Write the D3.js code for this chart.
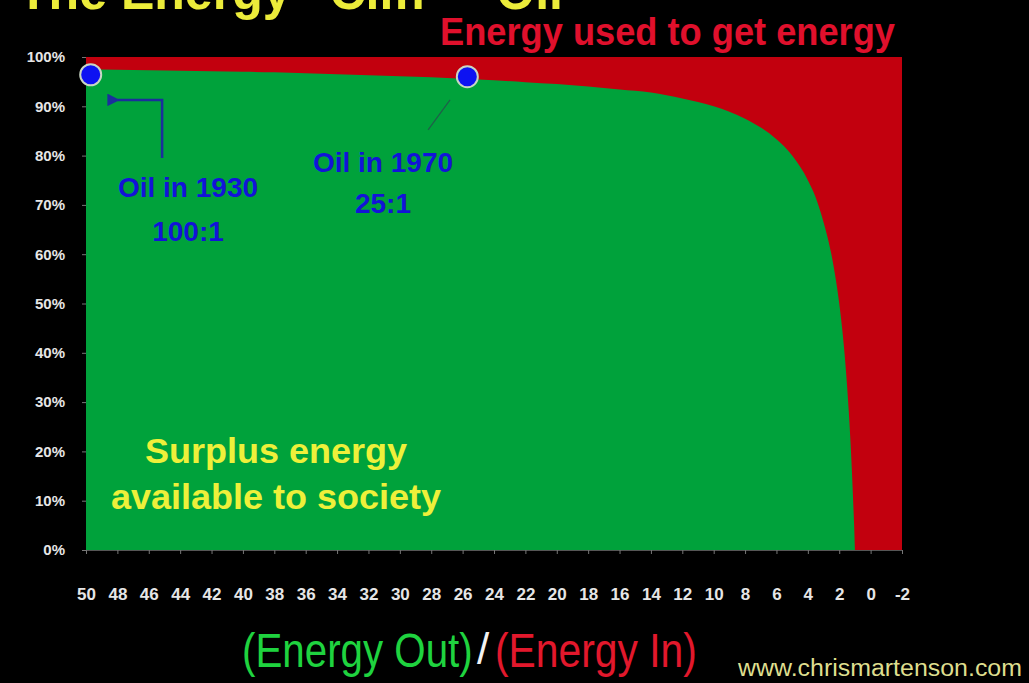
<!DOCTYPE html>
<html>
<head>
<meta charset="utf-8">
<script src="https://cdn.jsdelivr.net/npm/d3@7"></script>
<style>
  html, body { margin: 0; padding: 0; background: #000; }
  svg { display: block; }
</style>
</head>
<body>
<svg id="chart" width="1029" height="683"></svg>
<script>
// ---- data ----
const xTickValues = [50,48,46,44,42,40,38,36,34,32,30,28,26,24,22,20,18,16,14,12,10,8,6,4,2,0,-2];
const yTickValues = [0,10,20,30,40,50,60,70,80,90,100];
const eroi    = [50,48,46,44,42,40,38,36,34,32,30,28,26,24,22,20,18,16,14,12,10,9,8,7,6,5,4,3.5,3,2.5,2.2,2,1.8,1.6,1.4,1.3,1.2,1.1,1.05,1];
const surplus = [97.5,97.4,97.3,97.2,97.1,97.0,96.9,96.7,96.5,96.3,96.1,95.9,95.6,95.3,94.9,94.5,94.0,93.4,92.8,91.6,90.0,88.9,87.5,85.7,83.3,80.0,75.0,71.5,66.5,60.0,54.5,50.0,44.5,37.5,28.5,23.0,16.5,9.0,5.0,0];
const dotLabels = ["Oil in 1930", "Oil in 1970"];
const dotRatios = ["100:1", "25:1"];
const dotX = [49.7, 25.7];
const dotY = [96.4, 96.0];

const svg = d3.select("#chart");
const x = d3.scaleLinear().domain([50, -2]).range([86, 902]);
const y = d3.scaleLinear().domain([0, 100]).range([550, 57]);

// title (cut off at the top, as in the source)
svg.append("text").attr("x", 18).attr("y", 9)
  .attr("font-family", "Liberation Sans, Arial, sans-serif").attr("font-weight", "bold")
  .attr("font-size", 52).attr("fill", "#ecec3a")
  .attr("textLength", 545).attr("lengthAdjust", "spacingAndGlyphs")
  .text("The Energy \u201CCliff\u201D - Oil");

// red: energy used to get energy (whole domain)
svg.append("rect")
  .attr("x", x(50)).attr("y", y(100))
  .attr("width", x(-2) - x(50)).attr("height", y(0) - y(100))
  .attr("fill", "#c2000e");

// green: surplus energy
const pts = eroi.map((e, i) => ({ e, s: surplus[i] }));
svg.append("path").datum(pts)
  .attr("fill", "#00a23b")
  .attr("d", d3.area().x(d => x(d.e)).y0(y(0)).y1(d => y(d.s)).curve(d3.curveMonotoneX));

// axes
const xAxis = svg.append("g").attr("transform", `translate(0,${y(0)})`)
  .call(d3.axisBottom(x).tickValues(xTickValues).tickSize(4).tickFormat(d => String(d)));
xAxis.select(".domain").attr("stroke", "#555");
xAxis.selectAll(".tick line").attr("stroke", "#777");
xAxis.selectAll("text").attr("y", 50).attr("dy", 0)
  .attr("fill", "#e6e6e6").attr("font-size", 17).attr("font-weight", "bold")
  .attr("font-family", "Liberation Sans Narrow, Liberation Sans, Arial, sans-serif");

const yAxis = svg.append("g").attr("transform", `translate(${x(50)},0)`)
  .call(d3.axisLeft(y).tickValues(yTickValues).tickSize(4).tickPadding(17).tickFormat(d => d + "%"));
yAxis.select(".domain").remove();
yAxis.selectAll(".tick line").attr("stroke", "#777");
yAxis.selectAll("text")
  .attr("fill", "#e6e6e6").attr("font-size", 15).attr("font-weight", "bold")
  .attr("font-family", "Liberation Sans Narrow, Liberation Sans, Arial, sans-serif");

// annotation: 1930 bent arrow
svg.append("defs").append("marker").attr("id", "ah")
  .attr("viewBox", "0 0 10 10").attr("refX", 2).attr("refY", 5)
  .attr("markerWidth", 5).attr("markerHeight", 5).attr("orient", "auto")
  .append("path").attr("d", "M10,0 L0,5 L10,10 z").attr("fill", "#1b2f9c");
svg.append("path")
  .attr("d", `M${x(45.15)},${y(79.5)} L${x(45.15)},${y(91.3)} L${x(48.0)},${y(91.3)}`)
  .attr("fill", "none").attr("stroke", "#1b2f9c").attr("stroke-width", 2.5)
  .attr("marker-end", "url(#ah)");
// annotation: 1970 thin leader
svg.append("line")
  .attr("x1", x(26.8)).attr("y1", y(91.3)).attr("x2", x(28.2)).attr("y2", y(85.2))
  .attr("stroke", "#1f5e4a").attr("stroke-width", 1.2);

// dots
svg.selectAll("circle.dot").data(dotX).join("circle").attr("class", "dot")
  .attr("cx", d => x(d)).attr("cy", (d, i) => y(dotY[i])).attr("r", 10.5)
  .attr("fill", "#0d12f2").attr("stroke", "#c9d6c4").attr("stroke-width", 2);

// annotation text
const annoFont = "Liberation Sans, Arial, sans-serif";
const annoPos = [[188, 197, 241], [383, 172, 213]];
dotLabels.forEach((t, i) => {
  svg.append("text").attr("x", annoPos[i][0]).attr("y", annoPos[i][1])
    .attr("text-anchor", "middle").attr("font-family", annoFont).attr("font-weight", "bold")
    .attr("font-size", 28).attr("fill", "#1313d8").text(t);
  svg.append("text").attr("x", annoPos[i][0]).attr("y", annoPos[i][2])
    .attr("text-anchor", "middle").attr("font-family", annoFont).attr("font-weight", "bold")
    .attr("font-size", 28).attr("fill", "#1313d8").text(dotRatios[i]);
});

// surplus label
svg.append("text").attr("x", 276).attr("y", 463).attr("text-anchor", "middle")
  .attr("font-family", annoFont).attr("font-weight", "bold").attr("font-size", 35)
  .attr("fill", "#eef03a").attr("textLength", 262).attr("lengthAdjust", "spacingAndGlyphs")
  .text("Surplus energy");
svg.append("text").attr("x", 276).attr("y", 509).attr("text-anchor", "middle")
  .attr("font-family", annoFont).attr("font-weight", "bold").attr("font-size", 35)
  .attr("fill", "#eef03a").attr("textLength", 330).attr("lengthAdjust", "spacingAndGlyphs")
  .text("available to society");

// red heading
svg.append("text").attr("x", 440).attr("y", 45)
  .attr("font-family", annoFont).attr("font-weight", "bold").attr("font-size", 38)
  .attr("fill", "#e0102c").attr("textLength", 455).attr("lengthAdjust", "spacingAndGlyphs")
  .text("Energy used to get energy");

// x-axis title (three separate, horizontally condensed pieces)
svg.append("text").attr("transform", "translate(242,667) scale(0.84,1)")
  .attr("font-family", annoFont).attr("font-size", 48).attr("fill", "#1fd33f")
  .text("(Energy Out)");
svg.append("text").attr("x", 477).attr("y", 664)
  .attr("font-family", annoFont).attr("font-size", 44).attr("fill", "#f2f2f2").text("/");
svg.append("text").attr("transform", "translate(495,667) scale(0.85,1)")
  .attr("font-family", annoFont).attr("font-size", 48).attr("fill", "#e2182c")
  .text("(Energy In)");

// watermark
svg.append("text").attr("x", 738).attr("y", 676)
  .attr("font-family", annoFont).attr("font-size", 23).attr("fill", "#dede8e")
  .attr("textLength", 284).attr("lengthAdjust", "spacingAndGlyphs")
  .text("www.chrismartenson.com");
</script>
</body>
</html>
